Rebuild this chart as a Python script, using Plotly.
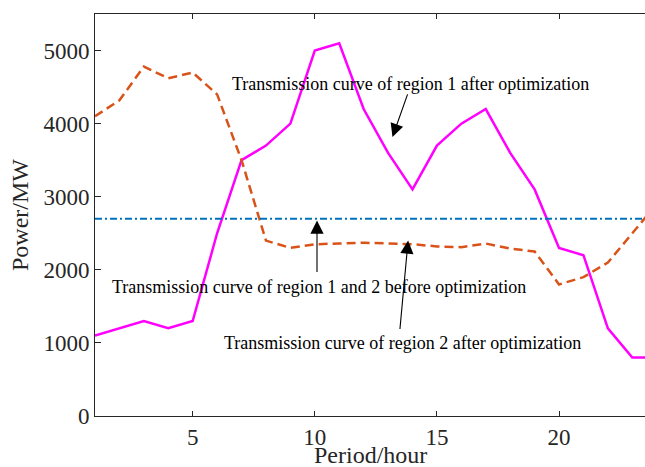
import plotly.graph_objects as go

# Hourly periods
hours = list(range(1, 25))

# Transmission power (MW)
region1_after = [1100, 1200, 1300, 1200, 1300, 2500, 3500, 3700, 4000, 5000, 5100, 4200,
                 3600, 3100, 3700, 4000, 4200, 3600, 3100, 2300, 2200, 1200, 800, 800]
region2_after = [4100, 4320, 4780, 4620, 4700, 4400, 3500, 2400, 2300, 2350, 2360, 2370,
                 2360, 2350, 2320, 2310, 2360, 2290, 2250, 1800, 1900, 2100, 2500, 2900]
before_level = 2700
before_opt = [before_level] * len(hours)

x_ticks = [5, 10, 15, 20]
y_ticks = [0, 1000, 2000, 3000, 4000, 5000]

SERIF = "Liberation Serif"
AXIS_COLOR = "#262626"

fig = go.Figure()

fig.add_trace(go.Scatter(
    x=hours, y=region1_after, mode="lines",
    line=dict(color="#FF00FF", width=2.5),
    name="Transmission curve of region 1 after optimization",
))
fig.add_trace(go.Scatter(
    x=hours, y=region2_after, mode="lines",
    line=dict(color="#D95319", width=2.5, dash="9px,5px"),
    name="Transmission curve of region 2 after optimization",
))
fig.add_trace(go.Scatter(
    x=hours, y=before_opt, mode="lines",
    line=dict(color="#0072BD", width=2, dash="7px,3px,2px,3px"),
    name="Transmission curve of region 1 and 2 before optimization",
))

# Curve labels
labels = [
    ("Transmission curve of region 1 after optimization", 13.91, 4548),
    ("Transmission curve of region 1 and 2 before optimization", 10.16, 1767),
    ("Transmission curve of region 2 after optimization", 13.61, 1000),
]
for text, lx, ly in labels:
    fig.add_annotation(x=lx, y=ly, text=text, showarrow=False,
                       font=dict(family=SERIF, size=18, color="black"),
                       xanchor="center", yanchor="middle")

# Pointer arrows: tip in data coords, tail offset in pixels
arrows = [
    (13.18, 3818, 15.6, -44),
    (10.09, 2675, 0, 53),
    (13.82, 2401, -8.3, 90),
]
for tx, ty, dx, dy in arrows:
    fig.add_annotation(x=tx, y=ty, ax=dx, ay=dy, text="", showarrow=True,
                       arrowhead=2, arrowsize=2.4, arrowwidth=1.1, arrowcolor="black")

# x-axis title sits just under the tick labels
fig.add_annotation(x=0.5, y=0, xref="paper", yref="paper", text="Period/hour",
                   showarrow=False, xanchor="center", yanchor="top", yshift=-24,
                   font=dict(family=SERIF, size=24, color=AXIS_COLOR))

fig.update_layout(
    width=645, height=467,
    margin=dict(l=95, r=0, t=14, b=51),
    paper_bgcolor="white", plot_bgcolor="white",
    showlegend=False,
    font=dict(family=SERIF, color=AXIS_COLOR),
)
fig.update_xaxes(
    range=[1, 23.52], tickvals=x_ticks, ticks="inside", ticklen=5,
    tickcolor=AXIS_COLOR, showline=True, linecolor=AXIS_COLOR, linewidth=1,
    mirror="ticks", showgrid=False, zeroline=False,
    tickfont=dict(family=SERIF, size=23, color=AXIS_COLOR),
    automargin=False,
)
fig.update_yaxes(
    range=[0, 5500], tickvals=y_ticks, ticks="inside", ticklen=6,
    tickcolor=AXIS_COLOR, showline=True, linecolor=AXIS_COLOR, linewidth=1,
    mirror=False, showgrid=False, zeroline=False,
    tickfont=dict(family=SERIF, size=23, color=AXIS_COLOR),
    title=dict(text="Power/MW", font=dict(family=SERIF, size=24, color=AXIS_COLOR),
               standoff=8),
    automargin=False,
)

fig.write_html("out.html")
